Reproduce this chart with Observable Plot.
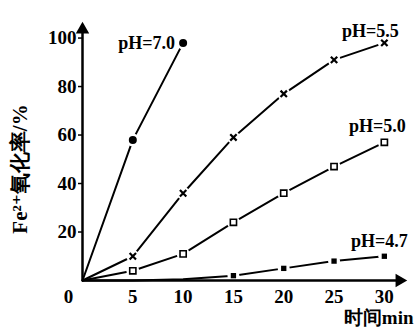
<!DOCTYPE html>
<html><head><meta charset="utf-8">
<script src="https://cdn.jsdelivr.net/npm/d3@7"></script>
<script src="https://cdn.jsdelivr.net/npm/@observablehq/plot@0.6"></script>
<style>body{margin:0;background:#fff}</style>
</head><body><div id="chart"></div>
<script>
const times = [0, 5, 10, 15, 20, 25, 30];
const ph70 = [0, 58, 98];
const ph55 = [0, 10, 36, 59, 77, 91, 98];
const ph50 = [0, 4, 11, 24, 36, 47, 57];
const ph47 = [0, 0, 0.5, 2, 5, 8, 10];
const xTicks = [5, 10, 15, 20, 25, 30];
const yTicks = [20, 40, 60, 80, 100];
const seriesLabels = ["pH=7.0", "pH=5.5", "pH=5.0", "pH=4.7"];
const xTitle = "时间min";
const yTitle = "Fe²⁺氧化率/%";

const mk = (vals, s) => vals.map((v, i) => ({t: times[i], v, s}));
const d70 = mk(ph70, seriesLabels[0]);
const d55 = mk(ph55, seriesLabels[1]);
const d50 = mk(ph50, seriesLabels[2]);
const d47 = mk(ph47, seriesLabels[3]);
const all = [d70, d55, d50, d47];
const last = all.map(d => d[d.length - 1]);
const font = "Liberation Serif, DejaVu Serif, serif";
const xMax = 32.3, yMax = 106;
const T = {fontFamily: font, fontWeight: "bold", fill: "#000"};

const chart = Plot.plot({
  width: 414, height: 327,
  marginLeft: 82, marginRight: 7, marginTop: 23, marginBottom: 47,
  x: {type: "linear", domain: [0, xMax], axis: null},
  y: {type: "linear", domain: [0, yMax]},
  style: {fontFamily: font, background: "#fff", color: "#000"},
  marks: [
    Plot.axisY({ticks: yTicks, tickSize: 4, strokeWidth: 1.5, tickFormat: () => "", label: null}),
    Plot.text(yTicks, {y: d => d, x: () => 0, dx: -6, textAnchor: "end", text: d => String(d), fontSize: 19, ...T}),
    Plot.text(xTicks, {x: d => d, y: () => 0, dy: 16, text: d => String(d), fontSize: 19, ...T}),
    // lines
    ...all.map(d => Plot.line(d, {x: "t", y: "v", stroke: "#000", strokeWidth: 2})),
    // halos for gaps
    ...[d70, d55, d50].map(d => Plot.dot(d.slice(1), {x: "t", y: "v", r: 6.5, fill: "#fff", stroke: "none"})),
    Plot.dot(d47.slice(3), {x: "t", y: "v", r: 6, fill: "#fff", stroke: "none"}),
    // axis lines
    Plot.ruleY([0], {x1: 0, x2: xMax - 0.6, stroke: "#000", strokeWidth: 2.5}),
    Plot.ruleX([0], {y1: 0, y2: yMax - 2, stroke: "#000", strokeWidth: 2.5}),
    Plot.dot([{x: xMax - 0.8, y: 0}], {x: "x", y: "y", symbol: "triangle", r: 5, fill: "#000", rotate: 90}),
    Plot.dot([{x: 0, y: yMax - 2.5}], {x: "x", y: "y", symbol: "triangle", r: 5, fill: "#000"}),
    Plot.text([{x: 0, y: 0}], {x: "x", y: "y", dx: -14, dy: 16, text: d => "0", fontSize: 19, ...T}),
    Plot.text([{x: xMax, y: 0, s: xTitle}], {x: "x", y: "y", dx: 6, dy: 37, textAnchor: "end", text: "s", fontSize: 19, ...T}),
    Plot.text([{x: 0, y: 46, s: yTitle}], {x: "x", y: "y", dx: -62, rotate: -90, text: "s", fontSize: 21, ...T}),
    // markers
    Plot.dot(d70.slice(1), {x: "t", y: "v", r: 4, fill: "#000"}),
    Plot.dot(d55.slice(1), {x: "t", y: "v", symbol: "times", r: 3, stroke: "#000", strokeWidth: 2.2}),
    Plot.dot(d50.slice(1), {x: "t", y: "v", symbol: "square", r: 3.5, fill: "#fff", stroke: "#000", strokeWidth: 1.6}),
    Plot.dot(d47.slice(3), {x: "t", y: "v", symbol: "square", r: 3, fill: "#000"}),
    // series labels
    Plot.text([last[0]], {x: "t", y: "v", dx: -8, textAnchor: "end", text: "s", fontSize: 18, ...T}),
    Plot.text([last[1]], {x: "t", y: "v", dx: -14, dy: -12, text: "s", fontSize: 18, ...T}),
    Plot.text([last[2]], {x: "t", y: "v", dx: -7, dy: -16, text: "s", fontSize: 18, ...T}),
    Plot.text([last[3]], {x: "t", y: "v", dx: -5, dy: -15, text: "s", fontSize: 18, ...T})
  ]
});
document.getElementById("chart").appendChild(chart);
</script></body></html>
